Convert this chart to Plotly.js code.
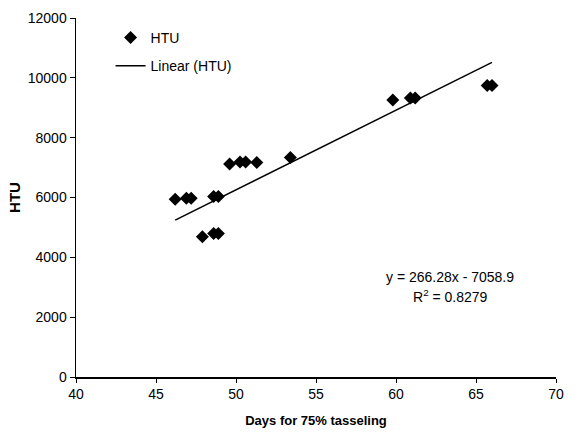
<!DOCTYPE html>
<html>
<head>
<meta charset="utf-8">
<script src="https://cdn.plot.ly/plotly-3.0.1.min.js"></script>
<style>
  html, body { margin: 0; padding: 0; background: #fff; }
  #chart { width: 577px; height: 439px; }
</style>
</head>
<body>
<div id="chart"></div>
<script>
// Days to 75% tasseling vs. accumulated heat units
const days = [46.2, 46.9, 47.2, 47.9, 48.6, 48.9, 48.6, 48.9, 49.6, 50.25, 50.6, 51.3, 53.4, 59.8, 60.9, 61.2, 65.7, 66.0];
const htu  = [5940, 5975, 5975, 4690, 4800, 4800, 6030, 6030, 7120, 7190, 7190, 7170, 7340, 9260, 9330, 9330, 9740, 9740];

// Linear trend as reported in the equation label
const slope = 266.28;
const intercept = -7058.9;
const rSquared = 0.8279;

const xTicks = [40, 45, 50, 55, 60, 65, 70];
const yTicks = [0, 2000, 4000, 6000, 8000, 10000, 12000];

const xMin = Math.min(...days);
const xMax = Math.max(...days);
const trendX = [xMin, xMax];
const trendY = trendX.map(x => slope * x + intercept);

const FONT = 'Liberation Sans, Arial, sans-serif';

const traces = [
  {
    x: days, y: htu,
    type: 'scatter', mode: 'markers',
    name: 'HTU',
    legendgroup: 'a',
    marker: { symbol: 'diamond', size: 10, color: '#000' }
  },
  {
    x: trendX, y: trendY,
    type: 'scatter', mode: 'lines',
    name: 'Linear (HTU)',
    legendgroup: 'b',
    line: { color: '#000', width: 1.5 }
  }
];

const layout = {
  width: 577, height: 439,
  margin: { l: 76, r: 21, t: 18, b: 62 },
  paper_bgcolor: '#fff', plot_bgcolor: '#fff',
  font: { family: FONT, size: 14, color: '#000' },
  showlegend: true,
  legend: {
    x: 0.072, y: 0.989, xanchor: 'left', yanchor: 'top',
    bgcolor: 'rgba(0,0,0,0)',
    font: { family: FONT, size: 14, color: '#000' },
    tracegroupgap: 7
  },
  xaxis: {
    range: [40, 70],
    tickvals: xTicks,
    ticktext: xTicks.map(String),
    showgrid: false, zeroline: false,
    showline: true, linecolor: '#000', linewidth: 1.5,
    ticks: 'outside', ticklen: 4, tickcolor: '#000',
    tickfont: { family: FONT, size: 14 },
    title: { text: '<b>Days for 75% tasseling</b>', font: { family: FONT, size: 13 }, standoff: 14 }
  },
  yaxis: {
    range: [0, 12000],
    tickvals: yTicks,
    ticktext: yTicks.map(String),
    showgrid: false, zeroline: false,
    showline: true, linecolor: '#000', linewidth: 1.5,
    ticks: 'outside', ticklen: 5, tickcolor: '#000',
    tickfont: { family: FONT, size: 14 },
    title: { text: '<b>HTU</b>', font: { family: FONT, size: 15 }, standoff: 3 }
  },
  annotations: [
    {
      xref: 'x', yref: 'y', x: 63.4, y: 3350,
      text: 'y = ' + slope.toFixed(2) + 'x - ' + Math.abs(intercept).toFixed(1),
      showarrow: false, font: { family: FONT, size: 14 }, xanchor: 'center'
    },
    {
      xref: 'x', yref: 'y', x: 63.4, y: 2700,
      text: 'R<sup>2</sup> = ' + rSquared.toFixed(4),
      showarrow: false, font: { family: FONT, size: 14 }, xanchor: 'center'
    }
  ]
};

Plotly.newPlot('chart', traces, layout, { displayModeBar: false, staticPlot: true });
</script>
</body>
</html>
